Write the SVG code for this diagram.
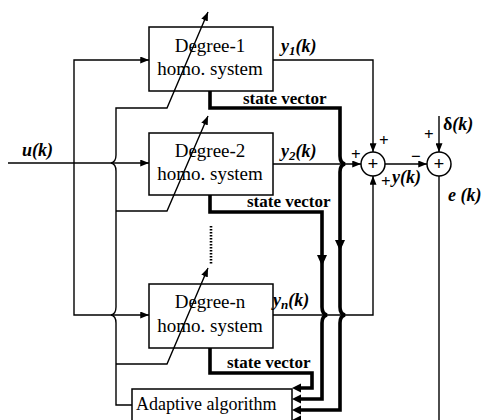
<svg xmlns="http://www.w3.org/2000/svg" width="482" height="420" viewBox="0 0 482 420">
<style>
.box{fill:#fff;stroke:#000;stroke-width:1.5}
.thin{fill:none;stroke:#000;stroke-width:1.4}
.thick{fill:none;stroke:#000;stroke-width:3.6;stroke-linejoin:miter}
.bt{font-family:"Liberation Serif","Times New Roman",serif;font-size:19px;fill:#000;text-anchor:middle}
.sv{font-family:"Liberation Serif","Times New Roman",serif;font-size:17px;font-weight:bold;fill:#000}
.m{font-family:"Liberation Serif","Times New Roman",serif;font-size:18px;font-weight:bold;font-style:italic;fill:#000}
.sg{font-family:"Liberation Serif","Times New Roman",serif;font-size:17px;font-weight:bold;fill:#000}
.ah{fill:#000}
</style>
<defs>
<marker id="arr" viewBox="0 0 10 8" refX="10" refY="4" markerWidth="9" markerHeight="7" markerUnits="userSpaceOnUse" orient="auto">
<path d="M0,0 L10,4 L0,8 z" fill="#000"/>
</marker>
</defs>
<rect width="482" height="420" fill="#fff"/>

<g id="box1">
<rect class="box" x="149" y="27" width="124" height="64"/>
<text class="bt" x="210" y="52">Degree-1</text>
<text class="bt" x="210" y="75">homo. system</text>
</g>
<g id="box2">
<rect class="box" x="149" y="133" width="124" height="62"/>
<text class="bt" x="210" y="157">Degree-2</text>
<text class="bt" x="210" y="180">homo. system</text>
</g>
<g id="boxn">
<rect class="box" x="149" y="284" width="124" height="64"/>
<text class="bt" x="210" y="308">Degree-n</text>
<text class="bt" x="210" y="332">homo. system</text>
</g>
<g id="adaptive">
<rect class="box" x="132" y="389" width="160" height="40"/>
<text class="bt" x="136" y="410" style="text-anchor:start;font-size:18px">Adaptive algorithm</text>
</g>
<g id="sum1">
<circle class="box" cx="373" cy="164" r="12"/>
<text class="sg" x="373" y="170" text-anchor="middle" style="font-size:19px">+</text>
</g>
<g id="sum2">
<circle class="box" cx="439" cy="164" r="12"/>
<text class="sg" x="439" y="170" text-anchor="middle" style="font-size:19px">+</text>
</g>

<g id="connectors">
<path class="thin" d="M8,163 L149,163" marker-end="url(#arr)"/>
<path class="thin" d="M74,163 L74,60 L149,60" marker-end="url(#arr)"/>
<path class="thin" d="M74,163 L74,315 L149,315" marker-end="url(#arr)"/>
<path class="thin" d="M132,405 L116,405 L116,323 Q116,316 111,315 Q116,314 116,307 L116,171 Q116,164 111,163 Q116,162 116,155 L116,108 L167,108 L208,12" marker-end="url(#arr)"/>
<path class="thin" d="M116,211 L167,211 L208,116" marker-end="url(#arr)"/>
<path class="thin" d="M116,364 L167,364 L208,268" marker-end="url(#arr)"/>
<path class="thin" d="M273,60 L373,60 L373,152" marker-end="url(#arr)"/>
<path class="thin" d="M273,164 L361,164" marker-end="url(#arr)"/>
<path class="thin" d="M273,315 L373,315 L373,176" marker-end="url(#arr)"/>
<path class="thin" d="M385,164 L427,164" marker-end="url(#arr)"/>
<path class="thin" d="M439,116 L439,152" marker-end="url(#arr)"/>
<path class="thin" d="M439,176 L439,422"/>
<path class="thick" d="M210,91 L210,108 L340,108 L340,156 Q340,163 345,164 Q340,165 340,172 L340,307 Q340,314 345,315 Q340,316 340,323 L340,410 L299,410"/>
<path class="thick" d="M210,195 L210,212 L322,212 L322,307 Q322,314 327,315 Q322,316 322,323 L322,399 L299,399"/>
<path class="thick" d="M210,348 L210,373 L312,373 L312,388 L299,388"/>
<polygon class="ah" points="292,388 301,383.5 301,392.5"/>
<polygon class="ah" points="292,399 301,394.5 301,403.5"/>
<polygon class="ah" points="292,410 301,405.5 301,414.5"/>
<polygon class="ah" points="292,420 301,415.5 301,424.5"/>
<polygon class="ah" points="340,251 335,240 345,240"/>
<polygon class="ah" points="322,266 317,255 327,255"/>
<path d="M211,226 L211,265" stroke="#000" stroke-width="2.6" stroke-dasharray="1.6 1.4" fill="none"/>
</g>

<g id="labels">
<text class="m" x="22" y="156">u(k)</text>
<text class="m" x="281" y="52">y<tspan dy="3" style="font-size:13px">1</tspan><tspan dy="-3">(k)</tspan></text>
<text class="m" x="281" y="157">y<tspan dy="3" style="font-size:13px">2</tspan><tspan dy="-3">(k)</tspan></text>
<text class="m" x="273" y="306">y<tspan dy="3" style="font-size:13px">n</tspan><tspan dy="-3">(k)</tspan></text>
<text class="sv" x="243" y="104">state vector</text>
<text class="sv" x="247" y="207">state vector</text>
<text class="sv" x="227" y="368">state vector</text>
<text class="sg" x="379" y="146">+</text>
<text class="sg" x="351" y="160">+</text>
<text class="sg" x="381" y="187">+</text>
<text class="m" x="392" y="183">y(k)</text>
<text class="sg" x="411" y="162">−</text>
<text class="sg" x="424" y="140">+</text>
<text class="sg" x="443" y="130" style="font-size:18px">δ<tspan style="font-style:italic">(k)</tspan></text>
<text class="m" x="448" y="201">e (k)</text>
</g>
</svg>
